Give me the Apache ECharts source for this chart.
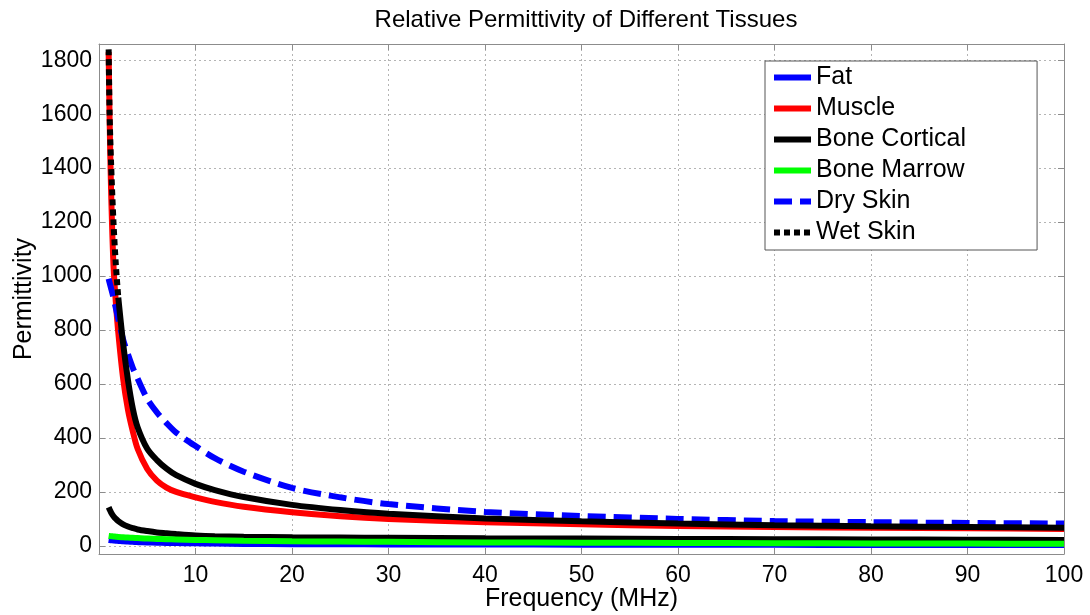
<!DOCTYPE html>
<html>
<head>
<meta charset="utf-8">
<title>Relative Permittivity of Different Tissues</title>
<script src="https://cdn.jsdelivr.net/npm/echarts@6.0.0/dist/echarts.min.js"></script>
<style>
  html, body { margin: 0; padding: 0; background: #fff; }
  #chart { width: 1090px; height: 615px; }
</style>
</head>
<body>
<div id="chart"></div>
<script>
// frequency points (MHz)
const freq = [1, 1.1, 1.25, 1.5, 1.75, 2, 2.5, 3, 3.5, 4, 5, 6, 7, 8, 10, 12, 15, 20, 25, 30, 40, 50, 60, 70, 80, 90, 100];

// permittivity
const fat = [22, 21.5, 21, 20, 19, 18.5, 17, 16, 15, 14, 13, 12, 11, 10.5, 9.5, 8.5, 7.5, 6.5, 6, 5.5, 5, 4.5, 4, 4, 3.5, 3.5, 3];
const muscle = [1830, 1580, 1320, 1040, 900, 790, 620, 505, 425, 360, 285, 242, 216, 200, 180, 163, 145, 125, 110, 100, 88, 80, 74, 70, 67, 65, 63];
const boneCortical = [143, 135, 124, 110, 100, 92, 80, 72, 66, 61, 55, 50, 47, 44, 39, 36, 34, 32, 31, 30, 28, 27, 26, 25, 24, 23, 22];
const boneMarrow = [37, 36.5, 36, 35, 34, 33, 32, 31, 30, 29, 27, 26, 25, 24, 22, 21, 19, 17, 16, 15, 13, 12, 11, 10, 9, 8.5, 8];
const drySkin = [990, 975, 955, 920, 880, 840, 765, 710, 660, 620, 545, 495, 455, 420, 370, 325, 275, 215, 180, 155, 126, 111, 100, 92, 88, 85, 83];
const wetSkin = [1840, 1600, 1420, 1200, 1040, 920, 750, 615, 510, 440, 360, 318, 286, 262, 230, 207, 181, 152, 133, 119, 102, 91, 83, 77, 73, 70, 67];

const names = ['Fat', 'Muscle', 'Bone Cortical', 'Bone Marrow', 'Dry Skin', 'Wet Skin'];
const xTicks = [10, 20, 30, 40, 50, 60, 70, 80, 90, 100];
const yTicks = [0, 200, 400, 600, 800, 1000, 1200, 1400, 1600, 1800];

const FONT = 'Liberation Sans, Arial, sans-serif';
const FRAME = '#8c8c8c';
const GRID = '#b4b4b4';

// the wet skin dots merge into a solid line once the curve flattens
const WET_SPLIT = 6;

function pairs(values, from, to) {
  let out = [];
  for (let i = from; i < to; i++) {
    out.push([freq[i], values[i]]);
  }
  return out;
}

function lineSeries(name, values, color, type, from, to) {
  return {
    name: name,
    type: 'line',
    data: pairs(values, from || 0, to || freq.length),
    symbol: 'none',
    smooth: 0.3,
    lineStyle: { color: color, width: 6, type: type || 'solid', cap: 'butt' },
    itemStyle: { color: color },
    emphasis: { disabled: true },
    animation: false
  };
}

function getOption() {
  const axisLine = { show: true, onZero: false, lineStyle: { color: FRAME, width: 1 } };
  const yTick = { show: true, inside: true, length: 6, lineStyle: { color: FRAME }, customValues: yTicks };
  const xTick = { show: true, inside: true, length: 6, lineStyle: { color: FRAME } };

  let option = {
    backgroundColor: '#ffffff',
    title: {
      text: 'Relative Permittivity of Different Tissues',
      left: 581,
      textAlign: 'center',
      top: 3,
      textStyle: { fontFamily: FONT, fontSize: 24, fontWeight: 'normal', color: '#000' }
    },
    legend: {
      orient: 'vertical',
      left: 765,
      top: 61,
      padding: [4, 71, 5, 6],
      itemWidth: 37,
      itemHeight: 25,
      itemGap: 6,
      backgroundColor: '#ffffff',
      borderColor: '#555',
      borderWidth: 1,
      borderRadius: 0,
      lineStyle: { width: 6 },
      itemStyle: { opacity: 0 },
      data: names,
      textStyle: { fontFamily: FONT, fontSize: 25, color: '#000' }
    },
    grid: { left: 99, right: 26, top: 44, height: 510, containLabel: false, outerBoundsMode: 'none' },
    xAxis: [
      {
        type: 'value',
        min: 0,
        max: 100,
        interval: 10,
        name: 'Frequency (MHz)',
        nameLocation: 'middle',
        nameGap: 33,
        nameMoveOverlap: false,
        nameTextStyle: { fontFamily: FONT, fontSize: 25, color: '#000' },
        axisLine: axisLine,
        axisTick: xTick,
        axisLabel: { customValues: xTicks, margin: 10, fontFamily: FONT, fontSize: 23, color: '#000' },
        splitLine: { show: true, lineStyle: { color: GRID, type: [2, 3], width: 1 } }
      },
      {
        type: 'value', position: 'top', min: 0, max: 100, interval: 10,
        axisLine: axisLine, axisTick: xTick,
        axisLabel: { show: false }, splitLine: { show: false }
      }
    ],
    yAxis: [
      {
        type: 'value',
        min: -30,
        max: 1860,
        name: 'Permittivity',
        nameLocation: 'middle',
        nameGap: 62,
        nameMoveOverlap: false,
        nameTextStyle: { fontFamily: FONT, fontSize: 25, color: '#000' },
        axisLine: axisLine,
        axisTick: yTick,
        axisLabel: {
          customValues: yTicks, margin: 7, fontFamily: FONT, fontSize: 23, color: '#000',
          formatter: (v) => String(v)
        },
        splitLine: { show: true, lineStyle: { color: GRID, type: [2, 3], width: 1 } }
      },
      {
        type: 'value', position: 'right', min: -30, max: 1860,
        axisLine: axisLine, axisTick: yTick,
        axisLabel: { show: false }, splitLine: { show: false }
      }
    ],
    series: [
      lineSeries('Fat', fat, '#0000ff'),
      lineSeries('Muscle', muscle, '#ff0000'),
      lineSeries('Bone Cortical', boneCortical, '#000000'),
      lineSeries('Bone Marrow', boneMarrow, '#00ff00'),
      lineSeries('Dry Skin', drySkin, '#0000ff', [18, 8]),
      lineSeries('Wet Skin', wetSkin, '#000000', [6, 4], 0, WET_SPLIT),
      lineSeries('Wet Skin', wetSkin, '#000000', 'solid', WET_SPLIT - 1)
    ]
  };
  return option;
}

const chart = echarts.init(document.getElementById('chart'), null, { renderer: 'canvas' });
chart.setOption(getOption());
</script>
</body>
</html>
